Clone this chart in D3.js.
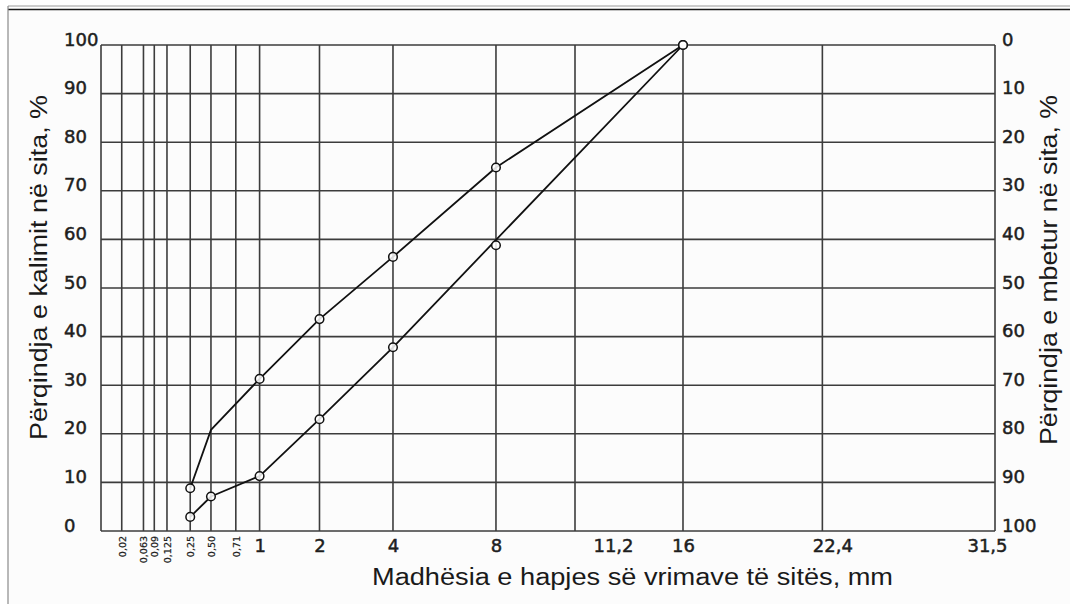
<!DOCTYPE html>
<html>
<head>
<meta charset="utf-8">
<script src="https://cdn.jsdelivr.net/npm/d3@7"></script>
<style>
  html, body { margin: 0; padding: 0; background: #ffffff; }
  svg { display: block; }
</style>
</head>
<body>
<svg id="chart" width="1070" height="604"></svg>
<script>
// ---------- data ----------
const sieveSizes  = [0.02, 0.063, 0.09, 0.125, 0.25, 0.5, 0.71, 1, 2, 4, 8, 11.2, 16, 22.4, 31.5];
const sieveLabels = ["0,02", "0,063", "0,09", "0,125", "0,25", "0,50", "0,71", "1", "2", "4", "8", "11,2", "16", "22,4", "31,5"];
const passingTicks  = [0, 10, 20, 30, 40, 50, 60, 70, 80, 90, 100];
const retainedTicks = [0, 10, 20, 30, 40, 50, 60, 70, 80, 90, 100];

// upper grading limit (line vertices; 0,50 vertex carries no marker)
const upperSizes   = [0.25, 0.5, 1, 2, 4, 8, 16];
const upperPassing = [8.8, 20.8, 31.3, 43.6, 56.4, 74.8, 100];
const upperMarked  = [true, false, true, true, true, true, true];

// lower grading limit
const lowerLineSizes     = [0.25, 0.5, 1, 2, 4, 16];
const lowerLinePassing   = [2.9, 7.1, 11.3, 23.0, 37.8, 100];
const lowerMarkerSizes   = [0.25, 0.5, 1, 2, 4, 8, 16];
const lowerMarkerPassing = [2.9, 7.1, 11.3, 23.0, 37.8, 58.8, 100];

// ---------- layout ----------
// the sieve axis of this chart form is non-uniform: fraction of the plot width at each sieve
const sieveAxisFractions = [0, 0.0232, 0.0475, 0.0596, 0.0738, 0.0998, 0.1230, 0.1508, 0.1774,
                            0.2444, 0.3266, 0.4418, 0.5302, 0.6510, 0.8069, 1];
// horizontal nudge of some size labels, as placed on the printed form (px)
const labelNudge = { "11,2": 38, "22,4": 10, "31,5": -8 };
const plot = { left: 101, right: 995, top: 45, bottom: 531 };
const gridColor = "#3c3c3c";
const textColor = "#1e1e1e";

const svg = d3.select("#chart");

svg.append("rect").attr("x", 0).attr("y", 0).attr("width", 1070).attr("height", 604).attr("fill", "#ffffff");
svg.append("rect").attr("x", 8).attr("y", 9).attr("width", 1062).attr("height", 595).attr("fill", "#fcfcfc");

// outer frame (top double rule + left rule)
svg.append("line").attr("x1", 8).attr("x2", 1070).attr("y1", 6).attr("y2", 6)
  .attr("stroke", "#9a9a9a").attr("stroke-width", 1);
svg.append("line").attr("x1", 8).attr("x2", 1070).attr("y1", 9.5).attr("y2", 9.5)
  .attr("stroke", "#1a1a1a").attr("stroke-width", 1.6);
svg.append("line").attr("x1", 8).attr("x2", 8).attr("y1", 6).attr("y2", 604)
  .attr("stroke", "#8a8a8a").attr("stroke-width", 1.2);

const pw = plot.right - plot.left;
const x = d3.scaleLinear()
  .domain([0].concat(sieveSizes))
  .range(sieveAxisFractions.map(f => plot.left + f * pw));
const y = d3.scaleLinear().domain([0, 100]).range([plot.bottom, plot.top]);
const yR = d3.scaleLinear().domain([100, 0]).range([plot.bottom, plot.top]);

// ---------- grid ----------
const grid = svg.append("g");
grid.selectAll("line.h").data(passingTicks).join("line")
  .attr("x1", plot.left).attr("x2", plot.right)
  .attr("y1", d => y(d)).attr("y2", d => y(d))
  .attr("stroke", gridColor).attr("stroke-width", 1.6);
grid.selectAll("line.v").data([0].concat(sieveSizes)).join("line")
  .attr("x1", d => x(d)).attr("x2", d => x(d))
  .attr("y1", plot.top).attr("y2", plot.bottom)
  .attr("stroke", gridColor).attr("stroke-width", 1.6);

const numFont = "DejaVu Sans, Verdana, sans-serif";

// ---------- left axis (passing) ----------
const leftAxis = svg.append("g")
  .attr("transform", `translate(${plot.left},0)`)
  .call(d3.axisLeft(y).tickValues(passingTicks).tickSize(0).tickFormat(d3.format("d")));
leftAxis.select(".domain").remove();
leftAxis.selectAll("text")
  .attr("x", 64 - plot.left).attr("dy", 0).attr("text-anchor", "start")
  .attr("font-family", numFont).attr("font-size", 18).attr("fill", textColor)
  .attr("stroke", textColor).attr("stroke-width", 0.5);

// ---------- right axis (retained) ----------
const rightAxis = svg.append("g")
  .attr("transform", `translate(${plot.right},0)`)
  .call(d3.axisRight(yR).tickValues(retainedTicks).tickSize(0).tickFormat(d3.format("d")));
rightAxis.select(".domain").remove();
rightAxis.selectAll("text")
  .attr("x", 7).attr("dy", 0).attr("text-anchor", "start")
  .attr("font-family", numFont).attr("font-size", 18).attr("fill", textColor)
  .attr("stroke", textColor).attr("stroke-width", 0.5);

// ---------- bottom axis (sieve sizes) ----------
const labelOf = d => sieveLabels[sieveSizes.indexOf(d)];
const bottomAxis = svg.append("g")
  .attr("transform", `translate(0,${plot.bottom})`)
  .call(d3.axisBottom(x).tickValues(sieveSizes).tickSize(0).tickFormat(labelOf));
bottomAxis.select(".domain").remove();
bottomAxis.selectAll(".tick text")
  .attr("fill", textColor)
  .attr("font-family", numFont)
  .each(function(d) {
    const t = d3.select(this);
    if (d < 1) {
      t.attr("font-size", 9.5).attr("text-anchor", "end")
       .attr("transform", "translate(0,5) rotate(-90)")
       .attr("x", 0).attr("y", 0).attr("dy", "0.35em")
       .attr("stroke", textColor).attr("stroke-width", 0.25);
    } else {
      t.attr("font-size", 18).attr("text-anchor", "middle")
       .attr("x", labelNudge[labelOf(d)] || 0)
       .attr("y", 21).attr("dy", 0)
       .attr("stroke", textColor).attr("stroke-width", 0.5);
    }
  });

// ---------- axis titles ----------
const titleFont = "Liberation Sans, Arial, sans-serif";
svg.append("text")
  .attr("x", 632.5).attr("y", 585)
  .attr("text-anchor", "middle").attr("font-family", titleFont).attr("font-size", 23)
  .attr("textLength", 521).attr("lengthAdjust", "spacingAndGlyphs")
  .attr("fill", "#1a1a1a")
  .text("Madhësia e hapjes së vrimave të sitës, mm");
svg.append("text")
  .attr("transform", "translate(47,267.5) rotate(-90)")
  .attr("text-anchor", "middle").attr("font-family", titleFont).attr("font-size", 23)
  .attr("textLength", 345).attr("lengthAdjust", "spacingAndGlyphs")
  .attr("fill", "#1a1a1a")
  .text("Përqindja e kalimit në sita, %");
svg.append("text")
  .attr("transform", "translate(1057,270) rotate(-90)")
  .attr("text-anchor", "middle").attr("font-family", titleFont).attr("font-size", 23)
  .attr("textLength", 350).attr("lengthAdjust", "spacingAndGlyphs")
  .attr("fill", "#1a1a1a")
  .text("Përqindja e mbetur në sita, %");

// ---------- grading curves ----------
const line = d3.line().x(d => x(d[0])).y(d => y(d[1]));
const upperPts = upperSizes.map((s, i) => [s, upperPassing[i], upperMarked[i]]);
const lowerLinePts = lowerLineSizes.map((s, i) => [s, lowerLinePassing[i]]);
const lowerMarkPts = lowerMarkerSizes.map((s, i) => [s, lowerMarkerPassing[i]]);

const curves = svg.append("g");
curves.append("path").attr("d", line(upperPts))
  .attr("fill", "none").attr("stroke", "#111").attr("stroke-width", 1.8).attr("stroke-linejoin", "round");
curves.append("path").attr("d", line(lowerLinePts))
  .attr("fill", "none").attr("stroke", "#111").attr("stroke-width", 1.8).attr("stroke-linejoin", "round");

const markers = upperPts.filter(d => d[2]).map(d => [d[0], d[1]]).concat(lowerMarkPts);
curves.selectAll("circle").data(markers).join("circle")
  .attr("cx", d => x(d[0])).attr("cy", d => y(d[1])).attr("r", 4.3)
  .attr("fill", "#ffffff").attr("fill-opacity", 0.85)
  .attr("stroke", "#111").attr("stroke-width", 1.5);
</script>
</body>
</html>
